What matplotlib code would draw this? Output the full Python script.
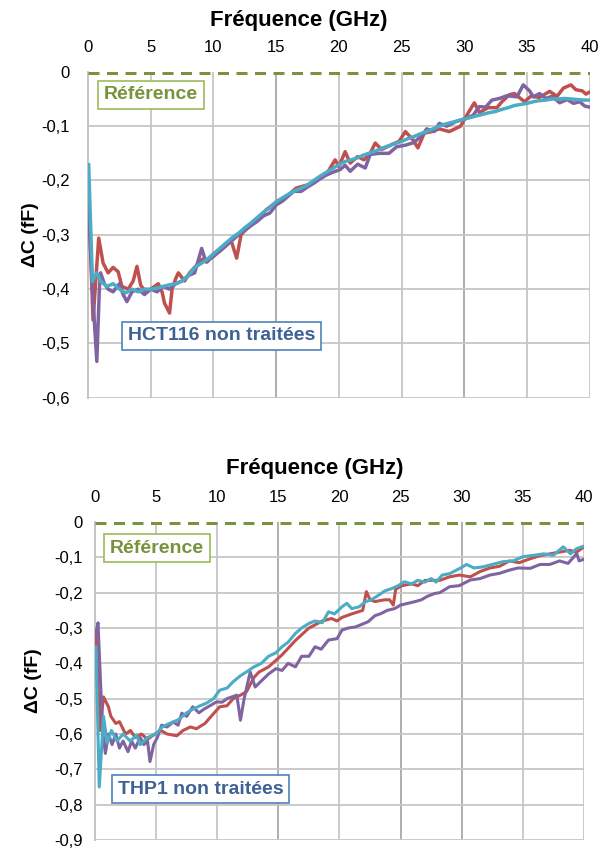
import matplotlib
matplotlib.use("Agg")
import matplotlib.pyplot as plt
from matplotlib.ticker import FuncFormatter, MultipleLocator

plt.rcParams['font.family'] = ['Liberation Sans', 'DejaVu Sans']

# ---- HCT116 (top panel) ----
hct_red_x = [0.05, 0.4, 0.85, 1.2, 1.6, 2.0, 2.4, 2.7, 3.2, 3.6, 3.9, 4.2, 4.6, 5.0, 5.3, 5.6, 5.9, 6.1,
             6.5, 6.7, 7.0, 7.2, 7.7, 8.1, 8.5, 9.1, 9.5, 10.0, 10.5, 11.0, 11.4, 11.85, 12.2, 12.9, 13.4,
             14.2, 15.0, 15.8, 16.6, 17.2, 17.95, 18.5, 19.15, 19.7, 20.0, 20.5, 20.9, 21.5, 22.0, 22.5,
             22.9, 23.4, 24.2, 24.8, 25.3, 25.9, 26.3, 26.8, 27.4, 28.0, 28.8, 29.7, 30.3, 30.8, 31.2,
             31.9, 32.6, 33.0, 33.6, 34.0, 34.8, 35.3, 36.0, 36.8, 37.4, 37.9, 38.5, 38.9, 39.4, 39.7, 40.0]
hct_red_y = [-0.236, -0.457, -0.306, -0.352, -0.37, -0.36, -0.368, -0.395, -0.40, -0.385, -0.358, -0.393,
             -0.405, -0.40, -0.395, -0.39, -0.405, -0.426, -0.444, -0.40, -0.38, -0.37, -0.385, -0.37,
             -0.36, -0.345, -0.35, -0.335, -0.33, -0.32, -0.31, -0.343, -0.30, -0.282, -0.276, -0.254,
             -0.24, -0.23, -0.214, -0.21, -0.205, -0.195, -0.183, -0.162, -0.174, -0.147, -0.168, -0.156,
             -0.162, -0.15, -0.131, -0.143, -0.134, -0.128, -0.11, -0.125, -0.14, -0.113, -0.11, -0.105,
             -0.11, -0.10, -0.076, -0.057, -0.075, -0.066, -0.066, -0.055, -0.042, -0.040, -0.055, -0.045,
             -0.047, -0.036, -0.045, -0.030, -0.024, -0.033, -0.035, -0.041, -0.037]

hct_purple_x = [0.05, 0.4, 0.7, 0.9, 1.0, 1.3, 1.6, 2.0, 2.5, 2.8, 3.1, 3.5, 4.0, 4.5, 5.0, 5.5, 6.0, 6.5,
                7.0, 7.5, 8.0, 8.5, 9.06, 9.4, 10.0, 10.5, 11.0, 11.5, 12.0, 12.5, 13.0, 13.5, 14.0, 14.5,
                15.0, 15.5, 16.0, 16.4, 17.0, 17.5, 18.0, 18.5, 19.0, 19.5, 20.1, 20.5, 20.9, 21.5, 22.1,
                22.5, 23.2, 24.0, 24.6, 25.3, 26.0, 26.7, 27.0, 27.6, 28.0, 28.6, 29.3, 30.2, 30.7, 31.2,
                31.7, 32.2, 32.8, 33.4, 34.2, 34.7, 35.2, 35.5, 36.0, 36.5, 37.0, 37.6, 38.2, 38.7, 39.2,
                39.6, 40.0]
hct_purple_y = [-0.257, -0.42, -0.533, -0.40, -0.37, -0.39, -0.40, -0.405, -0.39, -0.41, -0.423, -0.405,
                -0.40, -0.41, -0.40, -0.405, -0.395, -0.40, -0.39, -0.385, -0.375, -0.37, -0.325, -0.35,
                -0.34, -0.33, -0.32, -0.31, -0.30, -0.292, -0.283, -0.275, -0.265, -0.26, -0.245, -0.238,
                -0.228, -0.22, -0.22, -0.212, -0.205, -0.197, -0.19, -0.185, -0.18, -0.172, -0.183, -0.17,
                -0.177, -0.152, -0.15, -0.15, -0.138, -0.135, -0.13, -0.115, -0.105, -0.11, -0.095, -0.10,
                -0.092, -0.085, -0.08, -0.064, -0.065, -0.052, -0.049, -0.044, -0.046, -0.024, -0.035,
                -0.046, -0.040, -0.049, -0.045, -0.057, -0.051, -0.058, -0.055, -0.063, -0.065]

hct_cyan_x = [0.05, 0.35, 0.7, 1.0, 1.5, 2.0, 2.5, 3.0, 3.5, 4.0, 4.5, 5.0, 5.5, 6.0, 6.5, 7.0, 7.5, 8.0,
              8.5, 9.0, 9.5, 10.0, 10.5, 11.0, 11.5, 12.0, 12.5, 13.0, 13.5, 14.0, 14.5, 15.0, 15.5, 16.0,
              16.5, 17.0, 17.5, 18.0, 18.5, 19.0, 19.5, 20.0, 20.5, 21.0, 21.5, 22.0, 22.5, 23.0, 23.5,
              24.0, 24.5, 25.0, 25.5, 26.0, 26.5, 27.0, 27.5, 28.0, 28.5, 29.0, 29.5, 30.0, 30.5, 31.0,
              31.5, 32.0, 32.5, 33.0, 33.5, 34.0, 34.5, 35.0, 35.5, 36.0, 36.5, 37.0, 37.5, 38.0, 38.5,
              39.0, 39.5, 40.0]
hct_cyan_y = [-0.171, -0.386, -0.37, -0.385, -0.395, -0.39, -0.40, -0.407, -0.40, -0.405, -0.40, -0.40,
              -0.398, -0.395, -0.392, -0.39, -0.385, -0.375, -0.36, -0.353, -0.345, -0.335, -0.325, -0.315,
              -0.305, -0.297, -0.287, -0.278, -0.268, -0.258, -0.25, -0.239, -0.232, -0.225, -0.219,
              -0.214, -0.208, -0.20, -0.192, -0.185, -0.178, -0.171, -0.165, -0.162, -0.158, -0.153,
              -0.149, -0.145, -0.14, -0.136, -0.132, -0.128, -0.123, -0.119, -0.114, -0.11, -0.105, -0.10,
              -0.096, -0.093, -0.09, -0.087, -0.084, -0.081, -0.078, -0.075, -0.073, -0.069, -0.066,
              -0.062, -0.06, -0.058, -0.055, -0.053, -0.052, -0.05, -0.05, -0.049, -0.05, -0.051, -0.052,
              -0.052]

# ---- THP1 (bottom panel) ----
thp_red_x = [0.08, 0.4, 0.7, 1.1, 1.3, 1.7, 2.0, 2.5, 2.9, 3.3, 3.8, 4.3, 4.9, 5.4, 5.9, 6.7, 7.2, 7.8,
             8.3, 9.0, 9.5, 10.2, 10.8, 11.3, 11.9, 12.4, 13.0, 13.4, 14.2, 15.3, 16.4, 17.5, 18.6, 19.35,
             19.8, 20.2, 21.0, 21.9, 22.2, 22.5, 22.9, 23.7, 24.1, 24.4, 24.6, 25.1, 25.9, 26.4, 27.0,
             27.5, 28.2, 29.0, 29.8, 30.7, 31.5, 32.3, 33.1, 33.9, 34.7, 35.5, 36.4, 37.2, 38.0, 38.8,
             39.4, 40.0]
thp_red_y = [-0.306, -0.59, -0.495, -0.523, -0.55, -0.57, -0.565, -0.60, -0.59, -0.61, -0.60, -0.615,
             -0.60, -0.59, -0.60, -0.605, -0.59, -0.58, -0.585, -0.57, -0.55, -0.523, -0.52, -0.50, -0.49,
             -0.48, -0.44, -0.425, -0.41, -0.376, -0.335, -0.30, -0.28, -0.273, -0.28, -0.27, -0.26,
             -0.25, -0.197, -0.22, -0.225, -0.22, -0.22, -0.235, -0.19, -0.18, -0.175, -0.18, -0.165,
             -0.165, -0.165, -0.155, -0.15, -0.155, -0.14, -0.13, -0.125, -0.11, -0.115, -0.105, -0.095,
             -0.09, -0.085, -0.08, -0.085, -0.07]

thp_purple_x = [0.05, 0.25, 0.45, 0.65, 0.85, 1.1, 1.4, 1.7, 2.0, 2.3, 2.7, 3.0, 3.3, 3.7, 4.0, 4.3, 4.5,
                4.8, 5.1, 5.45, 5.9, 6.4, 6.8, 7.1, 7.5, 8.0, 8.5, 8.9, 9.4, 9.95, 10.4, 10.8, 11.2, 11.6,
                11.9, 12.2, 12.7, 13.1, 13.6, 14.2, 14.8, 15.3, 15.8, 16.4, 16.9, 17.5, 18.0, 18.5, 19.1,
                19.8, 20.2, 20.7, 21.3, 21.8, 22.35, 22.9, 23.4, 23.9, 24.5, 25.0, 25.6, 26.2, 26.7, 27.2,
                27.8, 28.2, 29.0, 29.8, 30.7, 31.5, 32.3, 33.1, 33.9, 34.6, 35.6, 36.4, 37.2, 38.0, 38.7,
                39.4, 39.6, 40.0]
thp_purple_y = [-0.32, -0.285, -0.45, -0.60, -0.655, -0.60, -0.63, -0.60, -0.64, -0.62, -0.65, -0.62,
                -0.64, -0.61, -0.63, -0.62, -0.678, -0.63, -0.61, -0.575, -0.58, -0.566, -0.575, -0.541,
                -0.55, -0.523, -0.54, -0.53, -0.52, -0.509, -0.51, -0.50, -0.495, -0.49, -0.561, -0.50,
                -0.424, -0.467, -0.45, -0.43, -0.415, -0.42, -0.40, -0.41, -0.38, -0.38, -0.353, -0.36,
                -0.334, -0.33, -0.306, -0.30, -0.297, -0.29, -0.282, -0.265, -0.259, -0.25, -0.245, -0.235,
                -0.23, -0.225, -0.22, -0.21, -0.202, -0.20, -0.183, -0.18, -0.164, -0.16, -0.15, -0.145,
                -0.136, -0.13, -0.131, -0.12, -0.12, -0.11, -0.117, -0.089, -0.11, -0.105]

thp_cyan_x = [0.08, 0.35, 0.7, 1.0, 1.35, 1.8, 2.3, 2.9, 3.4, 3.7, 4.3, 5.0, 5.5, 6.1, 6.8, 7.5, 8.0, 8.6,
              9.1, 9.7, 10.2, 10.8, 11.3, 11.9, 12.4, 13.0, 13.6, 14.2, 14.8, 15.3, 15.8, 16.4, 16.9, 17.5,
              18.0, 18.6, 19.1, 19.6, 20.2, 20.6, 21.0, 21.6, 22.1, 22.6, 23.2, 23.7, 24.3, 24.8, 25.3,
              25.9, 26.4, 27.0, 27.5, 27.9, 28.4, 29.0, 29.85, 30.4, 31.0, 31.7, 32.5, 33.4, 34.2, 35.0,
              35.9, 36.7, 37.5, 38.3, 38.9, 39.4, 40.0]
thp_cyan_y = [-0.353, -0.75, -0.55, -0.626, -0.59, -0.62, -0.60, -0.62, -0.603, -0.63, -0.61, -0.60,
              -0.58, -0.57, -0.56, -0.54, -0.53, -0.52, -0.513, -0.50, -0.476, -0.47, -0.452, -0.435,
              -0.424, -0.41, -0.40, -0.38, -0.37, -0.353, -0.34, -0.315, -0.30, -0.287, -0.28, -0.285,
              -0.254, -0.26, -0.24, -0.23, -0.245, -0.24, -0.226, -0.22, -0.207, -0.195, -0.188, -0.18,
              -0.169, -0.175, -0.165, -0.17, -0.16, -0.17, -0.15, -0.146, -0.131, -0.12, -0.13, -0.127,
              -0.12, -0.112, -0.11, -0.098, -0.094, -0.09, -0.094, -0.07, -0.09, -0.075, -0.068]

RED = '#C0504D'
PURPLE = '#8064A2'
CYAN = '#4BACC6'
GREEN = '#77933C'
GRID = '#C6C6C6'

x_ticks = [0, 5, 10, 15, 20, 25, 30, 35, 40]


def comma(v, pos):
    if abs(v) < 1e-9:
        return '0'
    return ('%.1f' % v).replace('.', ',')


def setup(ax, ymin, ypad, title_x, title_y, ylab_x, dark_x):
    ax.set_xlim(0, 40)
    ax.set_ylim(ymin, 0)
    ax.set_xticks(x_ticks)
    ax.yaxis.set_major_locator(MultipleLocator(0.1))
    ax.yaxis.set_major_formatter(FuncFormatter(comma))
    ax.xaxis.tick_top()
    ax.tick_params(axis='x', length=0, pad=12, labelsize=12)
    ax.tick_params(axis='y', length=0, pad=ypad, labelsize=12)
    for s in ['top', 'right', 'bottom']:
        ax.spines[s].set_visible(False)
    ax.spines['left'].set_color('#BFBFBF')
    ax.spines['left'].set_linewidth(1.3)
    # gridlines drawn explicitly so they sit under the curves
    for xv in x_ticks[1:]:
        c = '#A8A8A8' if xv in dark_x else GRID
        ax.axvline(xv, color=c, lw=1.3, zorder=1)
    yv = -0.1
    while yv > ymin - 1e-9:
        ax.axhline(yv, color=GRID, lw=1.3, zorder=1)
        yv -= 0.1
    ax.axhline(0, color=GREEN, lw=3.6, ls=(0, (2.2, 1.5)), zorder=4)
    ax.set_xlabel('Fréquence (GHz)', fontsize=16, fontweight='bold')
    ax.xaxis.set_label_position('top')
    ax.xaxis.label.set_va('center')
    ax.xaxis.set_label_coords(title_x, title_y)
    ax.set_ylabel('ΔC (fF)', fontsize=14, fontweight='bold')
    ax.yaxis.label.set_va('center')
    ax.yaxis.set_label_coords(ylab_x, 0.5)


fig = plt.figure(figsize=(6.03, 8.5), dpi=100)

ax1 = fig.add_axes([0.146, 0.532, 0.832, 0.3835])
ax1.plot(hct_red_x, hct_red_y, color=RED, lw=2.5, zorder=3)
ax1.plot(hct_purple_x, hct_purple_y, color=PURPLE, lw=2.5, zorder=3)
ax1.plot(hct_cyan_x, hct_cyan_y, color=CYAN, lw=2.5, zorder=3)
setup(ax1, -0.6, 13, 0.42, 1.157, -0.115, [15, 30])
ax1.text(0.032, 0.929, 'Référence', transform=ax1.transAxes, fontsize=14, fontweight='bold',
         color=GREEN, va='center', ha='left', zorder=5,
         bbox=dict(boxstyle='square,pad=0.3', fc='white', ec='#9BBB59', lw=1.2))
ax1.text(0.08, 0.19, 'HCT116 non traitées', transform=ax1.transAxes, fontsize=14, fontweight='bold',
         color='#3E6295', va='center', ha='left', zorder=5,
         bbox=dict(boxstyle='square,pad=0.3', fc='white', ec='#4F81BD', lw=1.2))

ax2 = fig.add_axes([0.1575, 0.0118, 0.811, 0.374])
ax2.plot(thp_red_x, thp_red_y, color=RED, lw=2.2, zorder=3)
ax2.plot(thp_purple_x, thp_purple_y, color=PURPLE, lw=2.2, zorder=3)
ax2.plot(thp_cyan_x, thp_cyan_y, color=CYAN, lw=2.2, zorder=3)
setup(ax2, -0.9, 9, 0.45, 1.17, -0.125, [15, 25, 30])
ax2.text(0.031, 0.918, 'Référence', transform=ax2.transAxes, fontsize=14, fontweight='bold',
         color=GREEN, va='center', ha='left', zorder=5,
         bbox=dict(boxstyle='square,pad=0.3', fc='white', ec='#9BBB59', lw=1.2))
ax2.text(0.047, 0.16, 'THP1 non traitées', transform=ax2.transAxes, fontsize=14, fontweight='bold',
         color='#3E6295', va='center', ha='left', zorder=5,
         bbox=dict(boxstyle='square,pad=0.3', fc='white', ec='#4F81BD', lw=1.2))

fig.savefig('out.png', dpi=100)
